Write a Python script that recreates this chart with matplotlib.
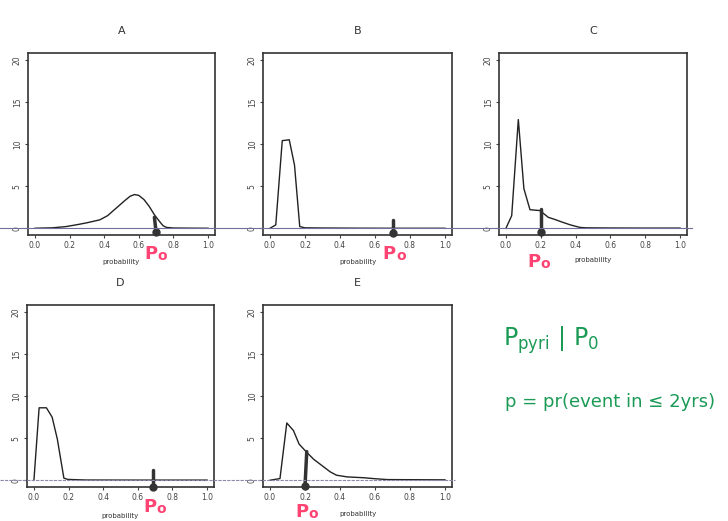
import matplotlib.pyplot as plt
from matplotlib.lines import Line2D

# -------------------------------------
# Data
# -------------------------------------

a_x = [0.0, 0.1, 0.18, 0.25, 0.3, 0.375, 0.42, 0.47, 0.52, 0.55, 0.575, 0.6, 0.63, 0.66, 0.69, 0.72, 0.74, 0.76, 0.8, 0.9, 1.0]
a_y = [0.0, 0.05, 0.2, 0.45, 0.65, 1.0, 1.5, 2.4, 3.3, 3.8, 4.0, 3.9, 3.4, 2.6, 1.6, 0.8, 0.3, 0.1, 0.03, 0.01, 0.0]

b_x = [0.0, 0.033, 0.07, 0.11, 0.14, 0.17, 0.2, 0.3, 0.5, 0.7, 1.0]
b_y = [0.0, 0.4, 10.4, 10.5, 7.5, 0.2, 0.05, 0.03, 0.01, 0.0, 0.0]

c_x = [0.0, 0.033, 0.071, 0.103, 0.138, 0.195, 0.243, 0.28, 0.32, 0.37, 0.425, 0.46, 0.6, 0.8, 1.0]
c_y = [0.0, 1.5, 12.9, 4.7, 2.2, 2.1, 1.3, 1.05, 0.75, 0.4, 0.1, 0.05, 0.03, 0.02, 0.02]

d_x = [0.0, 0.03, 0.072, 0.105, 0.135, 0.173, 0.196, 0.3, 0.6, 1.0]
d_y = [0.0, 8.6, 8.6, 7.5, 4.9, 0.25, 0.1, 0.03, 0.02, 0.02]

e_x = [0.0, 0.057, 0.096, 0.134, 0.166, 0.206, 0.249, 0.287, 0.344, 0.38, 0.44, 0.535, 0.59, 0.67, 1.0]
e_y = [0.0, 0.2, 6.8, 5.9, 4.3, 3.4, 2.5, 1.9, 1.0, 0.6, 0.4, 0.3, 0.2, 0.08, 0.05]

titles = ["A", "B", "C", "D", "E"]
curves = [(a_x, a_y), (b_x, b_y), (c_x, c_y), (d_x, d_y), (e_x, e_y)]

# hand drawn p0 marks: (x top, y top, x bottom, y bottom)
p0_marks = [
    (0.69, 1.3, 0.70, -0.5),
    (0.70, 0.95, 0.70, -0.6),
    (0.20, 2.3, 0.20, -0.5),
    (0.69, 1.25, 0.69, -0.75),
    (0.21, 3.4, 0.20, -0.7),
]
p0_label_x = [0.71, 0.72, 0.20, 0.71, 0.22]

x_ticks = [0.0, 0.2, 0.4, 0.6, 0.8, 1.0]
y_ticks = [0, 5, 10, 15, 20]

# -------------------------------------
# Figure
# -------------------------------------

fig = plt.figure(figsize=(7.28, 5.21), dpi=100)

W, H = 728, 521
boxes = [
    (28, 53, 215, 235),
    (263, 53, 452, 235),
    (499, 53, 687, 235),
    (27, 305, 214, 487),
    (263, 305, 452, 487),
]
label_y = [-0.105, -0.105, -0.15, -0.11, -0.135]
prob_y = [-0.15, -0.15, -0.14, -0.16, -0.15]

axes = []

for i, (l, t, r, b) in enumerate(boxes):

    ax = fig.add_axes([l / W, 1 - b / H, (r - l) / W, (b - t) / H])
    xs, ys = curves[i]

    ax.plot(xs, ys, color="#222222", lw=1.0)

    ax.set_xlim(-0.04, 1.04)
    ax.set_ylim(-0.8, 20.8)
    ax.set_xticks(x_ticks)
    ax.set_xticklabels([f"{v:.1f}" for v in x_ticks])
    ax.set_yticks(y_ticks)
    ax.set_yticklabels([str(v) for v in y_ticks], rotation=90, va="center")
    ax.tick_params(labelsize=5.5, length=2.5, pad=2, colors="#444444")

    for s in ax.spines.values():
        s.set_linewidth(1.2)
        s.set_color("#333333")

    ax.set_title(titles[i], fontsize=8, color="#333333", pad=14)
    ax.text(0.5, prob_y[i], "probability", transform=ax.transAxes,
            ha="center", va="center", fontsize=5, color="#333333")

    # hand drawn marker at p0
    x0, y0, x1, y1 = p0_marks[i]
    ax.plot([x0, x1], [y0, y1], color="#333333", lw=2.5, clip_on=False,
            solid_capstyle="round")
    ax.plot([x1], [y1], "o", color="#333333", ms=5, clip_on=False)

    ax.text(p0_label_x[i], label_y[i], "P",
            transform=ax.get_xaxis_transform(), ha="right", va="center",
            fontsize=13, color="#ff4474", fontweight="bold")
    ax.text(p0_label_x[i], label_y[i] - 0.012, "o",
            transform=ax.get_xaxis_transform(), ha="left", va="center",
            fontsize=10, color="#ff4474", fontweight="bold")

    axes.append(ax)

# -------------------------------------
# Pen lines along zero across each row
# -------------------------------------

fig.canvas.draw()

y_row1 = fig.transFigure.inverted().transform(
    axes[0].transData.transform((0, 0)))[1]
y_row2 = fig.transFigure.inverted().transform(
    axes[3].transData.transform((0, 0)))[1]

fig.add_artist(Line2D([0.0, 692 / W], [y_row1, y_row1],
                      transform=fig.transFigure, color="#6f6f9a", lw=0.8))
fig.add_artist(Line2D([0.0, 455 / W], [y_row2, y_row2],
                      transform=fig.transFigure, color="#8a8aa8", lw=0.8,
                      ls=(0, (3, 1))))

# -------------------------------------
# Handwritten notes
# -------------------------------------

fig.text(503 / W, 1 - 340 / H, r"$\mathrm{P_{pyri}}\ |\ \mathrm{P_0}$",
         fontsize=17, color="#1a9a55", ha="left", va="center")
fig.text(505 / W, 1 - 402 / H, "p = pr(event in \u2264 2yrs)", fontsize=13,
         color="#1a9a55", ha="left", va="center")

plt.savefig("out.png", dpi=100)
